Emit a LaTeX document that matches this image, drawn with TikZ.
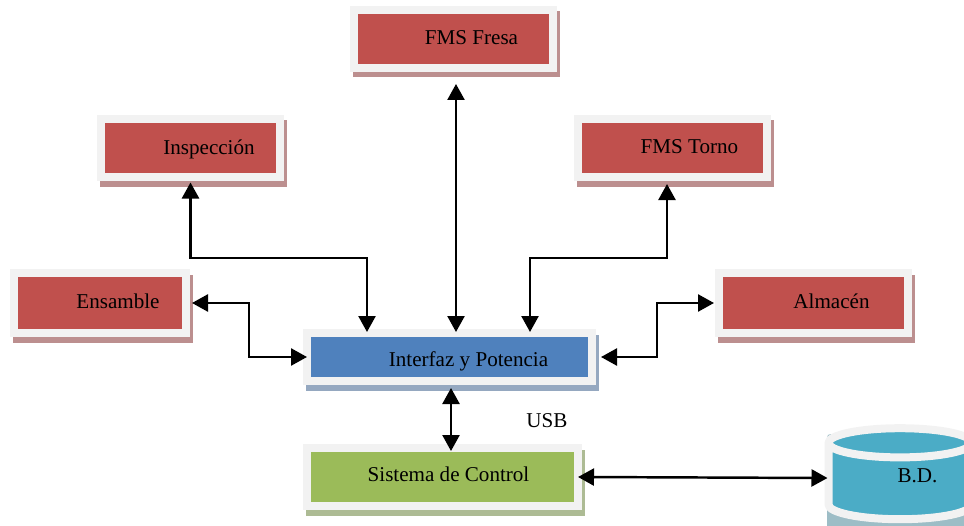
\documentclass[tikz,border=0pt]{standalone}
\usepackage{fontspec}
\setmainfont{Liberation Serif}
\usetikzlibrary{arrows.meta, shadows, shapes.geometric}
\definecolor{framegray}{HTML}{F2F2F2}
\definecolor{boxred}{HTML}{C0504D}
\definecolor{boxblue}{HTML}{4F81BD}
\definecolor{boxgreen}{HTML}{9BBB59}
\definecolor{boxteal}{HTML}{4BACC6}
\definecolor{shadered}{HTML}{BC8F8F}
\definecolor{shadeblue}{HTML}{95A8C0}
\definecolor{shadegreen}{HTML}{ADBB94}
\definecolor{shadeteal}{HTML}{9DBDC6}
\tikzset{
  box/.style={draw=framegray, line width=0.16cm, inner sep=0pt, text height=8pt, text depth=2pt, font=\fontsize{12}{14}\selectfont},
  redbox/.style={box, fill=boxred, minimum height=1.16cm,
    general shadow={fill=shadered, draw=shadered, shadow xshift=0.06cm, shadow yshift=-0.11cm}},
  bluebox/.style={box, fill=boxblue, minimum height=0.96cm,
    general shadow={fill=shadeblue, draw=shadeblue, shadow xshift=0.06cm, shadow yshift=-0.11cm}},
  greenbox/.style={box, fill=boxgreen, minimum height=1.16cm,
    general shadow={fill=shadegreen, draw=shadegreen, shadow xshift=0.06cm, shadow yshift=-0.11cm}},
  drum/.style={box, cylinder, shape border rotate=90, aspect=0.39, minimum height=1.82cm, minimum width=2.86cm, line join=round},
  link/.style={line width=1.4pt, {Triangle[length=0.32cm,width=0.34cm]}-{Triangle[length=0.32cm,width=0.34cm]}}
}
\begin{document}
\begin{tikzpicture}
\useasboundingbox (0,0) rectangle (19.28,10.5);
\node[redbox, minimum width=3.98cm] (fresa) at (9.07,9.72) {\hspace*{0.72cm}FMS Fresa};
\node[redbox, minimum width=3.58cm] (inspeccion) at (3.81,7.54) {\hspace*{0.74cm}\raisebox{-0.02cm}[0pt][0pt]{Inspección}};
\node[redbox, minimum width=3.78cm] (torno) at (13.45,7.54) {\hspace*{0.68cm}FMS Torno};
\node[redbox, minimum width=3.44cm, minimum height=1.2cm] (ensamble) at (2,4.44) {\hspace*{0.72cm}Ensamble};
\node[redbox, minimum width=3.78cm, minimum height=1.2cm] (almacen) at (16.27,4.44) {\hspace*{0.72cm}Almacén};
\node[bluebox, minimum width=5.7cm] (interfaz) at (8.99,3.36) {\hspace*{0.76cm}\raisebox{-0.09cm}[0pt][0pt]{Interfaz y Potencia}};
\node[greenbox, minimum width=5.42cm] (control) at (8.85,0.96) {\hspace*{0.24cm}\raisebox{0.02cm}[0pt][0pt]{Sistema de Control}};
\node[drum, draw=shadeteal, fill=shadeteal, minimum width=2.78cm] (bdshade) at (18,0.8) {};
\node[drum, cylinder uses custom fill, cylinder body fill=boxteal, cylinder end fill=boxteal] (bd) at (18,0.84) {\hspace*{0.7cm}\raisebox{0.12cm}[0pt][0pt]{B.D.}};
\node[font=\fontsize{12}{14}\selectfont] (usb) at (10.94,2.08) {USB};

\coordinate (kneefresa) at (9.12,5);
\coordinate (kneeinsp) at (7.34,5.34);
\coordinate (kneetorno) at (10.6,5.34);
\coordinate (topetorno) at (13.34,5.34);
\coordinate (kneeens) at (4.98,4);
\coordinate (kneealm) at (13.14,4);
\coordinate (kneeusb) at (9.02,2);
\coordinate (kneebd) at (16,0.94);

\draw[link, shorten <=0.24cm, shorten >=-0.06cm] (fresa.south -| kneefresa) -- (interfaz.north -| kneefresa);
\draw[link, shorten <=0.03cm, shorten >=-0.06cm] (inspeccion.south) |- (kneeinsp) -- (kneeinsp |- interfaz.north);
\draw[link, shorten <=0.06cm, shorten >=-0.06cm] (torno.south -| topetorno) -- (topetorno) -- (kneetorno) -- (kneetorno |- interfaz.north);
\draw[link, shorten <=0.04cm, shorten >=-0.08cm] (ensamble.east) -- (kneeens |- ensamble.east) -- (kneeens |- interfaz.west) -- (interfaz.west);
\draw[link, shorten <=0.02cm, shorten >=0.1cm] (almacen.west) -- (kneealm |- almacen.west) -- (kneealm |- interfaz.east) -- (interfaz.east);
\draw[link, shorten <=0.06cm, shorten >=-0.14cm] (interfaz.south -| kneeusb) -- (control.north -| kneeusb);
\draw[link, shorten <=-0.08cm, shorten >=-0.06cm] (control.east) -- (bd.west |- kneebd);
\end{tikzpicture}
\end{document}
